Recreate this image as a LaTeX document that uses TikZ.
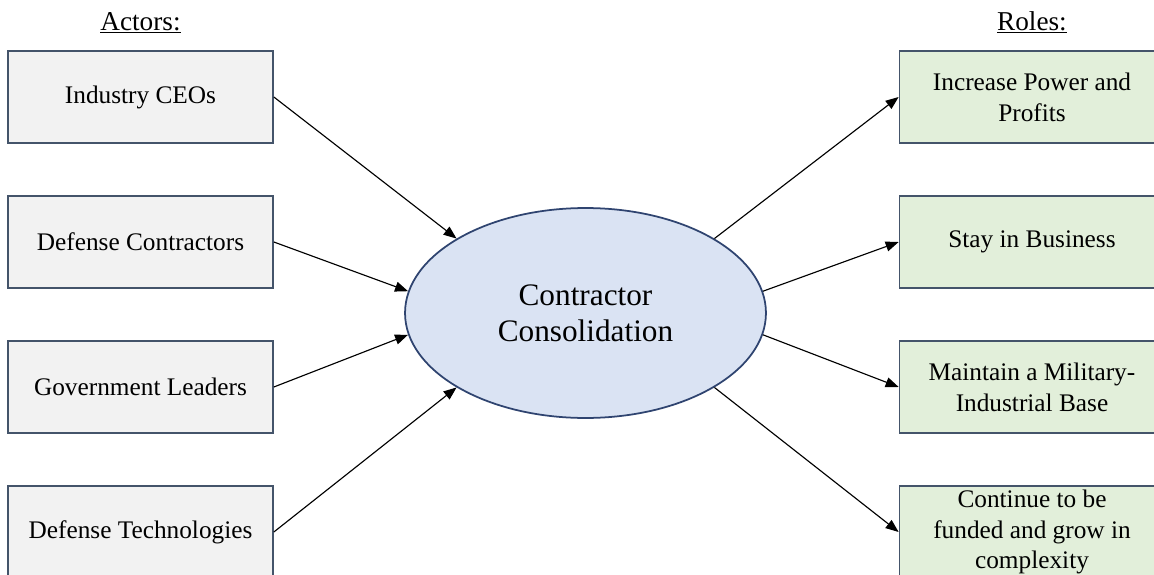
\documentclass[tikz,border=0pt]{standalone}
\usepackage{fontspec}
\setmainfont{Liberation Serif}
\usepackage{xcolor}
\usetikzlibrary{positioning,arrows.meta,shapes.geometric}

\definecolor{actorfill}{HTML}{F2F2F2}
\definecolor{rolefill}{HTML}{E2EFDA}
\definecolor{boxline}{HTML}{44546A}
\definecolor{ellfill}{HTML}{DAE3F3}
\definecolor{ellline}{HTML}{2F4470}

\begin{document}
\begin{tikzpicture}[x=0.02cm, y=-0.02cm, >={Triangle[length=2.6mm, width=2mm]},
  actor/.style={draw=boxline, fill=actorfill, line width=1pt, minimum width=5.3cm,
    minimum height=1.84cm, inner sep=0pt, align=center,
    font=\fontsize{14.4}{17.6}\selectfont},
  role/.style={actor, fill=rolefill},
  head/.style={anchor=base, font=\fontsize{15.5}{18}\selectfont},
  link/.style={->, line width=0.65pt, black}]
  \useasboundingbox (0,0) rectangle (1154,575);
  % headings
  \node[head] (actorhead) at (140.5,30) {\underline{Actors:}};
  \node[head] (rolehead) at (1032,30) {\underline{Roles:}};
  % actors
  \node[actor] (ceo)  at (140.5,97)  {Industry CEOs};
  \node[actor] (dcon) at (140.5,242) {Defense Contractors};
  \node[actor] (gov)  at (140.5,387) {Government Leaders};
  \node[actor] (tech) at (140.5,532) {Defense Technologies};
  % centre
  \node[ellipse, draw=ellline, fill=ellfill, line width=1pt, minimum width=7.22cm,
    minimum height=4.2cm, inner sep=0pt, align=center,
    font=\fontsize{17.8}{20.5}\selectfont] (cons) at (585.5,313) {Contractor\\Consolidation};
  % roles
  \node[role] (power) at (1032,97)  {Increase Power and\\Profits};
  \node[role] (stay)  at (1032,242) {Stay in Business};
  \node[role] (base)  at (1032,387) {Maintain a Military-\\Industrial Base};
  \node[role] (grow)  at (1032,532) {Continue to be\\funded and grow in\\complexity};
  % connectors
  \draw[link] (ceo.east)  -- (cons.150);
  \draw[link] (dcon.east) -- (cons.173);
  \draw[link] (gov.east)  -- (cons.187);
  \draw[link] (tech.east) -- (cons.210);
  \draw[link] (cons.30)  -- (power.west);
  \draw[link] (cons.7)   -- (stay.west);
  \draw[link] (cons.-7)  -- (base.west);
  \draw[link] (cons.-30) -- (grow.west);
\end{tikzpicture}
\end{document}
